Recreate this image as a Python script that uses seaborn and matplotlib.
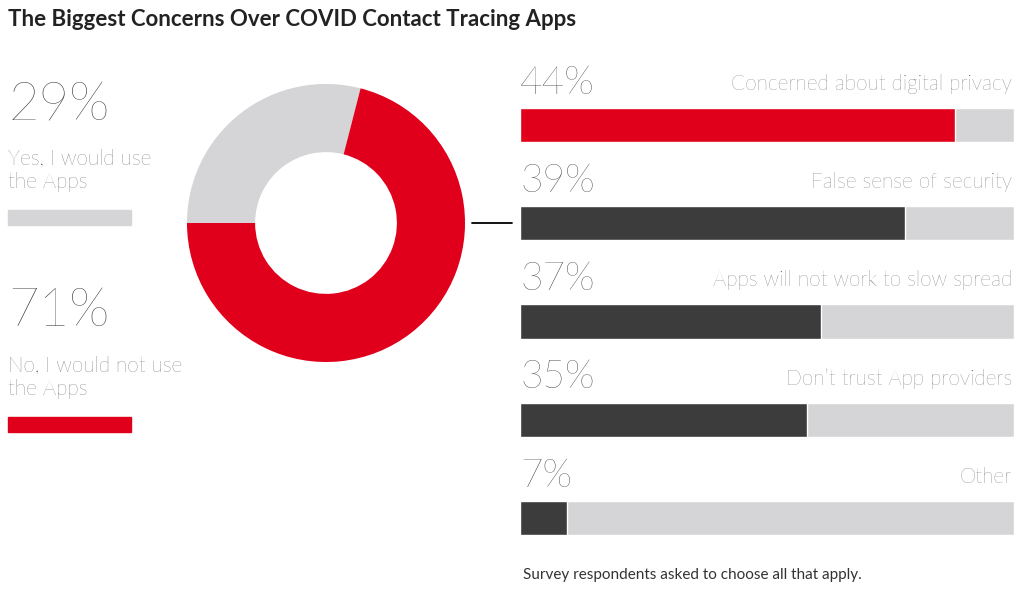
import numpy as np
import pandas as pd
import seaborn as sns
import matplotlib.pyplot as plt

sns.set_theme(style="white")
plt.rcParams["font.family"] = ["Lato", "DejaVu Sans"]

# datos
concerns = ["Concerned about digital privacy", "False sense of security",
            "Apps will not work to slow spread", "Don\u2019t trust App providers", "Other"]
concern_pct = ["44%", "39%", "37%", "35%", "7%"]
bar_fill = [88, 78, 61, 58, 9.5]   # largo de barra (escala 0-100)
bar_colors = ["#E0001B", "#3C3C3C", "#3C3C3C", "#3C3C3C", "#3C3C3C"]

use_labels = ["Yes, I would use\nthe Apps", "No, I would not use\nthe Apps"]
use_pct = [29, 71]
use_colors = ["#D5D5D7", "#E0001B"]

W, H = 1026, 590
fig = plt.figure(figsize=(W / 100, H / 100), dpi=100)

#%% barras
ax = fig.add_axes([520 / W, 1 - 567 / H, 494 / W, 491 / H])
df = pd.DataFrame({"concern": concerns, "fill": bar_fill, "full": [100] * len(concerns)})
sns.barplot(data=df, x="full", y="concern", color="#D5D5D7", width=0.35, ax=ax, saturation=1)
sns.barplot(data=df, x="fill", y="concern", hue="concern", palette=bar_colors,
            width=0.35, ax=ax, saturation=1, legend=False)
ax.set_xlim(0, 100)
ax.set_ylim(4.5, -0.5)
ax.axis("off")
for i, (c, p) in enumerate(zip(concerns, concern_pct)):
    ax.text(0, i - 0.43, p, fontsize=28, fontweight="light", color="#333333",
            ha="left", va="center")
    ax.text(99.6, i - 0.42, c, fontsize=15, fontweight="light", color="#444444",
            ha="right", va="center")

#%% dona
axd = fig.add_axes([(326 - 145) / W, 1 - (223 + 145) / H, 290 / W, 290 / H])
axd.pie(use_pct, colors=use_colors, startangle=180, counterclock=False,
        wedgeprops=dict(width=0.49, linewidth=0))
axd.set_xlim(-1.043, 1.043)
axd.set_ylim(-1.043, 1.043)
axd.set_aspect("equal")
axd.axis("off")

# conector
fig.add_artist(plt.Line2D([472 / W, 512 / W], [1 - 223 / H] * 2, color="black", lw=1.3))

#%% textos izquierda
for (lab, pct, col, ytop) in zip(use_labels, use_pct, use_colors, [105, 312]):
    fig.text(8 / W, 1 - ytop / H, f"{pct}%", fontsize=38, fontweight="light",
             color="#333333", ha="left", va="center")
    fig.text(8 / W, 1 - (ytop + 65) / H, lab, fontsize=15, fontweight="light",
             color="#333333", ha="left", va="center", linespacing=1.25)
    fig.add_artist(plt.Rectangle((8 / W, 1 - (ytop + 120) / H), 123 / W, 15 / H,
                                 color=col, transform=fig.transFigure))

fig.text(8 / W, 1 - 20 / H, "The Biggest Concerns Over COVID Contact Tracing Apps",
         fontsize=16, fontweight="bold", color="#222222", ha="left", va="center")
fig.text(523 / W, 1 - 575 / H, "Survey respondents asked to choose all that apply.",
         fontsize=11, color="#333333", ha="left", va="center")

fig.savefig("out.png", dpi=100, facecolor="white")
